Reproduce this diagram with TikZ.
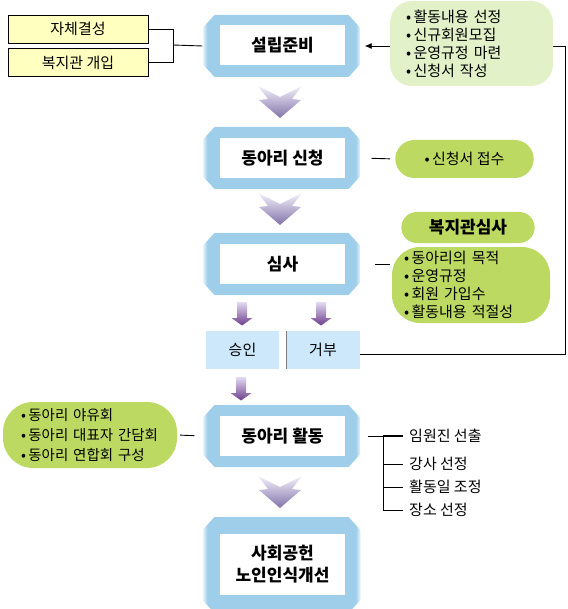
\documentclass[tikz,border=0pt]{standalone}
\usepackage{fontspec}
\setmainfont{Noto Sans CJK KR}
\usetikzlibrary{positioning}
\usetikzlibrary{shapes.misc}
\usetikzlibrary{arrows.meta}
\definecolor{frameblue}{RGB}{158,206,234}
\definecolor{okblue}{RGB}{204,232,250}
\definecolor{palegreen}{RGB}{226,241,200}
\definecolor{leafgreen}{RGB}{188,218,98}
\definecolor{noteyellow}{RGB}{255,255,192}
\definecolor{chevtop}{RGB}{242,240,250}
\definecolor{chevbot}{RGB}{130,115,170}
\definecolor{arrowtop}{RGB}{228,218,242}
\definecolor{arrowbot}{RGB}{108,62,140}
\pgfdeclarehorizontalshading{framefade}{100bp}{color(0bp)=(frameblue!15); color(25bp)=(frameblue!15); color(26.5bp)=(frameblue); color(73.5bp)=(frameblue); color(75bp)=(frameblue!15); color(100bp)=(frameblue!15)}
\newcommand{\stageframe}[4]{%
  \shade[shading=framefade, shift={(#2,#3)}] (-67,-#4) -- (67,-#4) -- (79,-#4+13) -- (79,#4-13) -- (67,#4) -- (-67,#4) -- (-79,#4-13) -- (-79,-#4+13) -- cycle;
  \node[framebox, minimum height={2*#4pt}] at (#2,#3) (#1) {};
}
\newcommand{\stepchevron}[1]{\shade[top color=chevtop, bottom color=chevbot, shift={(#1)}] (-22,0) -- (0,11) -- (22,0) -- (12,13) -- (21,14) -- (0,32) -- (-21,14) -- (-12,13) -- cycle;}
\newcommand{\pickarrow}[1]{\shade[top color=arrowtop, bottom color=arrowbot, shift={(#1)}] (-5,0) -- (5,0) -- (5,16) -- (10.5,16) -- (0,23.5) -- (-10.5,16) -- (-5,16) -- cycle;}
\tikzset{
    framebox/.style = {rectangle, minimum width=158pt, inner sep=0pt},
    stage/.style = {rectangle, fill=white, minimum width=125pt, minimum height=40pt, align=center, font=\fontsize{17}{22}\selectfont\bfseries},
    result/.style = {rectangle, fill=okblue, minimum width=73pt, minimum height=38pt, font=\fontsize{15}{18}\selectfont},
    notebox/.style = {rectangle, draw=black, fill=noteyellow, minimum width=140pt, minimum height=28pt, font=\fontsize{15}{18}\selectfont},
    ideabox/.style = {rectangle, rounded corners=22pt, fill=palegreen, align=left, font=\fontsize{15}{18}\selectfont},
    leafpill/.style = {rounded rectangle, fill=leafgreen, font=\fontsize{15}{18}\selectfont},
    leafbox/.style = {rectangle, fill=leafgreen, align=left, font=\fontsize{15}{18}\selectfont},
    task/.style = {anchor=west, inner xsep=2pt, font=\fontsize{15}{18}\selectfont},
    link/.style = {line width=0.9pt, black}
}
\begin{document}
\begin{tikzpicture}[x=1pt,y=-1pt]
\useasboundingbox (0,0) rectangle (567,609);

% left notes
\node[notebox] at (78,29) (selfmade) {자체결성};
\node[notebox] at (78,62.5) (welfare) {복지관 개입};
\coordinate (joint) at (173,45);

% main flow
\stageframe{prepframe}{281.5}{46}{31}
\node[stage] at (282.5,45) (prep) {설립준비};
\stageframe{applyframe}{281.5}{158}{31}
\node[stage] at (282.5,158) (apply) {동아리 신청};
\stageframe{reviewframe}{281.5}{264}{31}
\node[stage] at (282.5,264) (review) {심사};
\stageframe{actframe}{281.5}{436}{31}
\node[stage] at (282.5,436) (activity) {동아리 활동};
\stageframe{goalframe}{281.5}{565}{48}
\node[stage, minimum height=61pt] at (282.5,564) (goal) {사회공헌\\노인인식개선};

\stepchevron{280,86}
\stepchevron{280,193}
\stepchevron{280,476}

\node[result] at (242.5,350) (accept) {승인};
\node[result] at (323,350) (reject) {거부};
\draw[gray, line width=1.5pt] (reject.north west) -- (reject.south west);
\pickarrow{242,302}
\pickarrow{321,302}
\pickarrow{241,377}

% feedback line
\coordinate (turn) at (565,354);
\draw[link,-{Latex[length=7pt,width=6pt]},shorten >=4pt] ([yshift=-4pt]reject.east) -- (turn) |- (prepframe.east);

% right notes
\node[ideabox, minimum height=85pt, text width=131pt, inner xsep=16pt] at (471.5,43.5) (tasks) {•\,활동내용 선정\\•\,신규회원모집\\•\,운영규정 마련\\•\,신청서 작성};
\node[leafpill, minimum width=145pt, minimum height=38pt] at (464.5,159) (receipt) {•\,신청서 접수};
\node[leafbox, rounded corners=28pt, minimum height=76pt, text width=134pt, inner xsep=12pt] at (471,285) (criteria) {•\,동아리의 목적\\•\,운영규정\\•\,회원 가입수\\•\,활동내용 적절성};
\node[leafpill, minimum width=140pt, minimum height=31pt, font=\fontsize{17}{20}\selectfont\bfseries] at (468,227.5) (reviewhead) {복지관심사};

% left pill
\node[leafbox, rounded corners=30pt, minimum height=66pt, text width=154pt, inner xsep=10pt, font=\fontsize{14.5}{20}\selectfont] at (90,435) (meetings) {\hspace*{8pt}•\,동아리 야유회\\\hspace*{8pt}•\,동아리 대표자 간담회\\\hspace*{8pt}•\,동아리 연합회 구성};

% activity tasks
\node[task] at (407,436) (officer) {임원진 선출};
\node[task] at (407,464) (teacher) {강사 선정};
\node[task] at (407,487) (schedule) {활동일 조정};
\node[task] at (407,510) (venue) {장소 선정};
\coordinate (stem) at (383,436);

% connectors
\draw[link] (selfmade.east) -| (joint);
\draw[link] (welfare.east) -| (joint);
\draw[link] (joint) -- (prepframe.west);
\draw[link, shorten <=11pt, shorten >=5pt] (applyframe.east) -- (receipt.west);
\draw[link, shorten <=14pt, shorten >=2pt] (reviewframe.east) -- (reviewframe.east -| criteria.west);
\draw[link, shorten <=3pt, shorten >=8pt] (meetings.east) -- (actframe.west);
\draw[link, shorten <=7pt] (actframe.east) -- (stem);
\draw[link, line width=1.8pt, shorten >=4pt] (stem) -- (officer.west);
\draw[link, shorten >=4pt] (stem) |- (teacher.west);
\draw[link, shorten >=4pt] (stem) |- (schedule.west);
\draw[link, shorten >=4pt] (stem) |- (venue.west);
\end{tikzpicture}
\end{document}
